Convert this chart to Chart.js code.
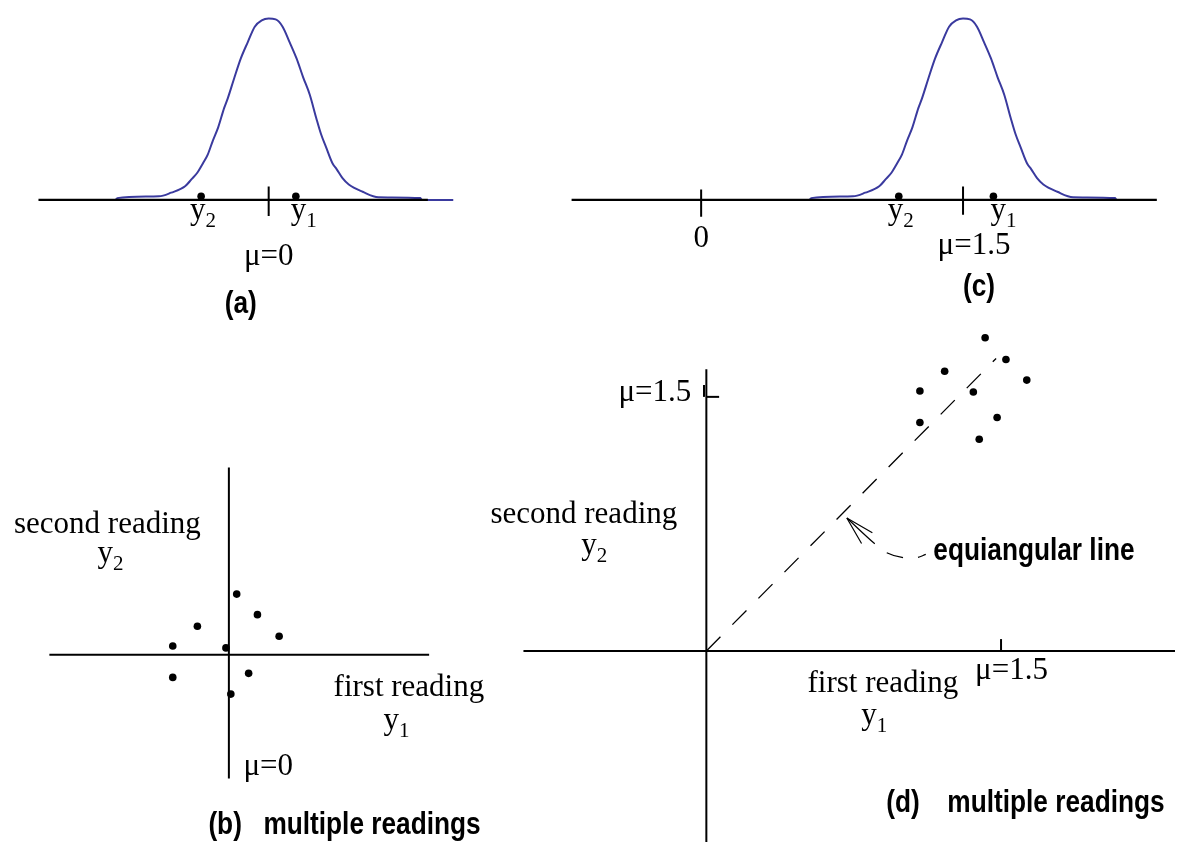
<!DOCTYPE html>
<html>
<head>
<meta charset="utf-8">
<title>Readings around the mean - equiangular line</title>
<script src="https://cdn.jsdelivr.net/npm/chart.js@4.4.1/dist/chart.umd.min.js"></script>
<style>
    body { margin: 0; background: #fff; }
    #stage { position: relative; width: 1179px; height: 846px; overflow: hidden; background: #fff; }
    #stage canvas { position: absolute; }
</style>
</head>
<body>
<div id="stage">
    <canvas id="panel-a" width="560" height="340" style="left:0px;top:0px"></canvas>
    <canvas id="panel-c" width="639" height="340" style="left:540px;top:0px"></canvas>
    <canvas id="panel-b" width="500" height="406" style="left:0px;top:440px"></canvas>
    <canvas id="panel-d" width="709" height="526" style="left:470px;top:320px"></canvas>
</div>
<script>
// ---- Data ----

// Bell curve of panels (a) and (c): offset from the mean, relative height
const curveOffsets = [-1.07, -0.88, -0.87, -0.63, -0.56, -0.48, -0.444, -0.41, -0.378, -0.35, -0.321, -0.29, -0.256, -0.235,
    -0.199, -0.16, -0.12, -0.08, -0.04, 0, 0.04, 0.08, 0.12, 0.16, 0.198, 0.236, 0.273, 0.301, 0.33, 0.367, 0.39,
    0.424, 0.46, 0.54, 0.63, 0.87, 0.88, 1.06];
const curveHeights = [0, 0, 0.01, 0.02, 0.04, 0.075, 0.113, 0.15, 0.201, 0.25, 0.326, 0.40, 0.506, 0.56,
    0.668, 0.78, 0.87, 0.955, 0.99, 1.0, 0.995, 0.955, 0.87, 0.78, 0.676, 0.58, 0.452, 0.362, 0.29, 0.201, 0.17,
    0.12, 0.085, 0.045, 0.015, 0.01, 0, 0];

// Panel (a): mean 0, two readings y2 and y1
const muA = 0;
const readingsA = [-0.388, 0.156];
const axisA = [-1.322, 0.914];
const tickA = [0.074, -0.088];

// Panel (c): mean 1.5
const muC = 1.5;
const readingsC = [1.132, 1.674];
const axisC = [-0.742, 2.61];
const tickZeroC = [0.058, -0.093];
const tickMuC = [0.074, -0.082];

// Panel (b): multiple readings around 0
const firstReadingsB = [0.040, 0.146, -0.161, 0.257, -0.287, -0.015, -0.287, 0.101, 0.010];
const secondReadingsB = [0.360, 0.238, 0.169, 0.110, 0.052, 0.041, -0.134, -0.110, -0.233];
const axisBx = [-0.918, 1.024];
const axisBy = [-0.733, 1.110];

// Panel (d): multiple readings around 1.5
const firstReadingsD = [1.419, 1.525, 1.213, 1.631, 1.087, 1.359, 1.087, 1.480, 1.389];
const secondReadingsD = [1.849, 1.721, 1.651, 1.599, 1.535, 1.529, 1.349, 1.378, 1.250];
const axisDx = [-0.931, 2.39];
const axisDy = [-1.13, 1.663];
const equiangularX = [0, 1.475];
const equiangularY = [0, 1.727];
// curved pointer from the label to the line (tip first)
const pointerX = [0.715, 0.856, 0.916, 0.996, 1.072, 1.117];
const pointerY = [0.785, 0.634, 0.581, 0.552, 0.552, 0.570];
const arrowHeadX = [0.845, 0.790];
const arrowHeadY = [0.698, 0.634];

// Tick labels
const tickLabelsA = ['\u03BC=0'];
const tickLabelsC = ['0', '\u03BC=1.5'];
const tickLabelsD = ['\u03BC=1.5', '\u03BC=1.5'];

// ---- Styles ----
const INK = '#000';
const CURVE_BLUE = '#3a3a9e';
const SERIF_FONT = '31px "Liberation Serif", "Times New Roman", serif';
const SUB_FONT = '21px "Liberation Serif", "Times New Roman", serif';
const BOLD_FONT = 'bold 32px "Liberation Sans", Arial, sans-serif';

// Helpers
function pts(xs, ys) {
    return xs.map((x, i) => ({ x: x, y: ys[i] }));
}

function lineSet(points, color, width, dash, extra) {
    return Object.assign({
        data: points,
        borderColor: color,
        borderWidth: width,
        borderDash: dash || [],
        pointRadius: 0,
        fill: false,
        tension: 0,
        spanGaps: false
    }, extra || {});
}

function dotSet(points) {
    return {
        data: points,
        showLine: false,
        pointRadius: 3.8,
        pointBackgroundColor: INK,
        pointBorderWidth: 0
    };
}

function drawLabel(ctx, item, px, py) {
    ctx.save();
    ctx.fillStyle = INK;
    ctx.textBaseline = 'alphabetic';
    if (item.bold) {
        // the bold captions are a narrow face: squeeze horizontally
        ctx.font = BOLD_FONT;
        ctx.translate(px, py);
        ctx.scale(0.82, 1);
        ctx.textAlign = item.align || 'left';
        ctx.fillText(item.text, 0, 0);
    } else {
        ctx.font = SERIF_FONT;
        const w = ctx.measureText(item.text).width;
        let sw = 0;
        if (item.sub) {
            ctx.font = SUB_FONT;
            sw = ctx.measureText(item.sub).width;
            ctx.font = SERIF_FONT;
        }
        let x0 = px;
        if (item.align === 'center') x0 = px - (w + sw) / 2;
        else if (item.align === 'right') x0 = px - (w + sw);
        ctx.textAlign = 'left';
        ctx.fillText(item.text, x0, py);
        if (item.sub) {
            ctx.font = SUB_FONT;
            ctx.fillText(item.sub, x0 + w, py + 8);
        }
    }
    ctx.restore();
}

// Text labels anchored to data values, nudged in pixels
function textPlugin(items) {
    return {
        id: 'panelText',
        afterDatasetsDraw(chart) {
            const xs = chart.scales.x;
            const ys = chart.scales.y;
            items.forEach(item => {
                const px = xs.getPixelForValue(item.at[0]) + (item.dx || 0);
                const py = ys.getPixelForValue(item.at[1]) + (item.dy || 0);
                drawLabel(chart.ctx, item, px, py);
            });
        }
    };
}

function makePanel(id, xRange, yRange, datasets, labels) {
    return new Chart(document.getElementById(id), {
        type: 'line',
        data: { datasets: datasets },
        options: {
            responsive: false,
            animation: false,
            devicePixelRatio: 1,
            layout: { padding: 0 },
            events: [],
            plugins: {
                legend: { display: false },
                tooltip: { enabled: false }
            },
            scales: {
                x: { type: 'linear', min: xRange[0], max: xRange[1], display: false },
                y: { type: 'linear', min: yRange[0], max: yRange[1], display: false }
            }
        },
        plugins: [textPlugin(labels)]
    });
}

// ---- Panel (a) ----
makePanel('panel-a', [-1.52, 1.65], [-0.75, 1.08], [
    dotSet(pts(readingsA, [0.02, 0.02])),
    lineSet(pts([muA, muA], tickA), INK, 2),
    lineSet(pts(axisA, [0, 0]), INK, 2.2),
    lineSet(pts(curveOffsets.map(v => v + muA), curveHeights), CURVE_BLUE, 2, null, { cubicInterpolationMode: 'monotone' })
], [
    { text: 'y', sub: '2', at: [readingsA[0], 0], dx: -11, dy: 19 },
    { text: 'y', sub: '1', at: [readingsA[1], 0], dx: -5, dy: 19 },
    { text: tickLabelsA[0], at: [muA, 0], dy: 65, align: 'center' },
    { text: '(a)', at: [muA, 0], dx: -28, dy: 113, align: 'center', bold: true }
]);

// ---- Panel (c) ----
makePanel('panel-c', [-0.9, 2.714], [-0.75, 1.08], [
    dotSet(pts(readingsC, [0.02, 0.02])),
    lineSet(pts([0, 0], tickZeroC), INK, 2),
    lineSet(pts([muC, muC], tickMuC), INK, 2),
    lineSet(pts(axisC, [0, 0]), INK, 2.2),
    lineSet(pts(curveOffsets.map(v => v + muC), curveHeights), CURVE_BLUE, 2, null, { cubicInterpolationMode: 'monotone' })
], [
    { text: tickLabelsC[0], at: [0, 0], dy: 47, align: 'center' },
    { text: 'y', sub: '2', at: [readingsC[0], 0], dx: -11, dy: 19 },
    { text: 'y', sub: '1', at: [readingsC[1], 0], dx: -3, dy: 19 },
    { text: tickLabelsC[1], at: [muC, 0], dx: 11, dy: 54, align: 'center' },
    { text: '(c)', at: [muC, 0], dx: 16, dy: 96, align: 'center', bold: true }
]);

// ---- Panel (b) ----
makePanel('panel-b', [-1.15, 1.366], [-1.11, 1.25], [
    dotSet(pts(firstReadingsB, secondReadingsB)),
    lineSet(pts(axisBx, [0, 0]), INK, 2),
    lineSet(pts([0, 0], axisBy), INK, 2)
], [
    { text: 'second reading', at: [0, 0], dx: -121.5, dy: -122, align: 'center' },
    { text: 'y', sub: '2', at: [0, 0], dx: -131.5, dy: -93 },
    { text: 'first reading', at: [0, 0], dx: 180, dy: 41, align: 'center' },
    { text: 'y', sub: '1', at: [0, 0], dx: 154.5, dy: 74 },
    { text: tickLabelsA[0], at: [0, 0], dx: 14.5, dy: 120 },
    { text: '(b)', at: [0, 0], dx: -20.5, dy: 179, bold: true },
    { text: 'multiple readings', at: [0, 0], dx: 34.5, dy: 179, bold: true }
]);

// ---- Panel (d) ----
makePanel('panel-d', [-1.1827, 2.3855], [-1.1279, 1.9302], [
    dotSet(pts(firstReadingsD, secondReadingsD)),
    lineSet(pts(axisDx, [0, 0]), INK, 2),
    lineSet(pts([0, 0], axisDy), INK, 2),
    lineSet(pts([muC, muC], [0, 0.07]), INK, 2),
    lineSet(pts([0, 0.065], [muC, muC]), INK, 2),
    lineSet(pts([-0.012, -0.012], [muC, 1.57]), INK, 2),
    lineSet(pts(equiangularX, equiangularY), INK, 1.3, [20, 17]),
    lineSet(pts(pointerX, pointerY), INK, 1.2, [38, 15, 17, 15, 10, 300], { tension: 0.4 }),
    lineSet([
        { x: pointerX[0], y: pointerY[0] }, { x: arrowHeadX[0], y: arrowHeadY[0] },
        { x: arrowHeadX[0], y: null },
        { x: pointerX[0], y: pointerY[0] }, { x: arrowHeadX[1], y: arrowHeadY[1] }
    ], INK, 1.2)
], [
    { text: tickLabelsD[0], at: [0, muC], dx: -15, dy: 4, align: 'right' },
    { text: 'second reading', at: [0, 0], dx: -122.5, dy: -128, align: 'center' },
    { text: 'y', sub: '2', at: [0, 0], dx: -125, dy: -97 },
    { text: 'first reading', at: [0, 0], dx: 176.5, dy: 41, align: 'center' },
    { text: 'y', sub: '1', at: [0, 0], dx: 155, dy: 73 },
    { text: tickLabelsD[1], at: [muC, 0], dx: -26, dy: 28 },
    { text: 'equiangular line', at: [0, 0], dx: 227, dy: -91, bold: true },
    { text: '(d)', at: [0, 0], dx: 180, dy: 161, bold: true },
    { text: 'multiple readings', at: [0, 0], dx: 241, dy: 161, bold: true }
]);
</script>
</body>
</html>
